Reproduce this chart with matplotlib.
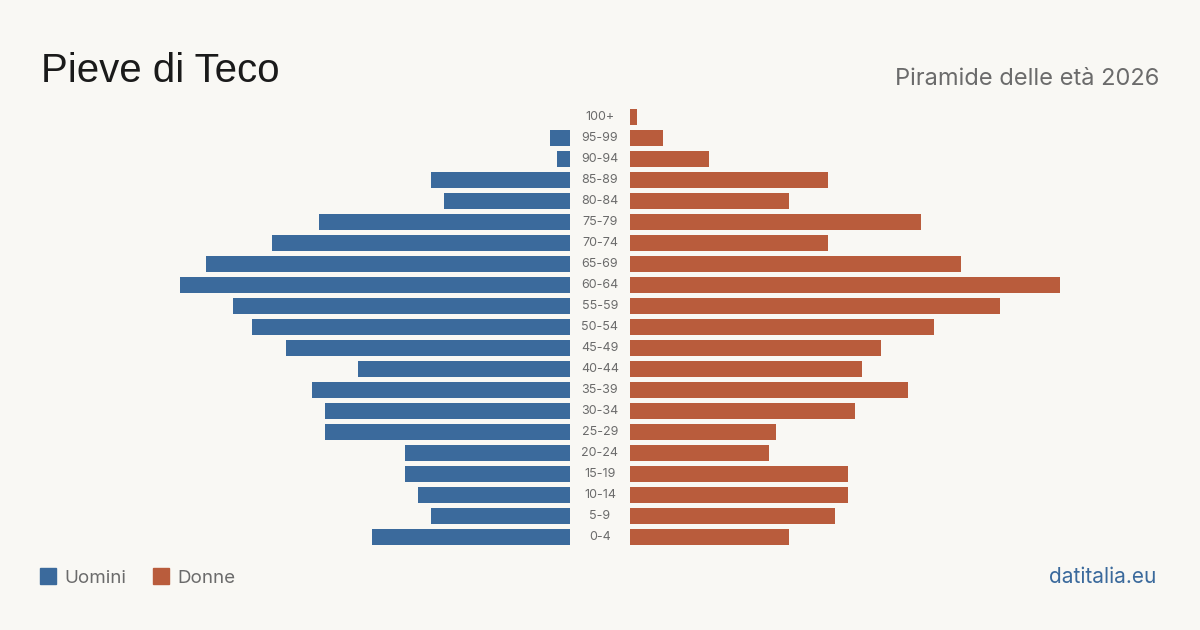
import matplotlib
matplotlib.use('Agg')
from matplotlib import pyplot as plt
from matplotlib import transforms
from matplotlib.patches import Rectangle

# Dati della piramide (dal basso verso l'alto)
classi = ['0-4', '5-9', '10-14', '15-19', '20-24', '25-29', '30-34', '35-39', '40-44',
          '45-49', '50-54', '55-59', '60-64', '65-69', '70-74', '75-79', '80-84',
          '85-89', '90-94', '95-99', '100+']
uomini = [30, 21, 23, 25, 25, 37, 37, 39, 32, 43, 48, 51, 59, 55, 45, 38, 19, 21, 2, 3, 0]
donne = [24, 31, 33, 33, 21, 22, 34, 42, 35, 38, 46, 56, 65, 50, 30, 44, 24, 30, 12, 5, 1]

BLU = '#3b6a9c'
ARANCIO = '#b95c3c'
SFONDO = '#f9f8f4'
GRIGIO = '#6b6b6b'

W, H = 1200, 630
fig = plt.figure(figsize=(12, 6.3), dpi=100, facecolor=SFONDO)

xmax = 440 / 6.615
y0 = (H - 547.5) / H
hh = 441 / H
axl = fig.add_axes([130 / W, y0, 440 / W, hh])
axr = fig.add_axes([630 / W, y0, 440 / W, hh])

pos = list(range(len(classi)))
axl.barh(pos, uomini, height=0.8, color=BLU)
axr.barh(pos, donne, height=0.8, color=ARANCIO)
axl.set_xlim(xmax, 0)
axr.set_xlim(0, xmax)
for ax in (axl, axr):
    ax.set_ylim(-0.5, len(classi) - 0.5)
    ax.axis('off')

# Etichette delle classi al centro
tr = transforms.blended_transform_factory(fig.transFigure, axl.transData)
for p, c in zip(pos, classi):
    fig.text(600 / W, p, c, transform=tr, ha='center', va='center',
             fontsize=9, color=GRIGIO, family='Inter')

# Titolo e sottotitolo
fig.text(41 / W, 1 - 82 / H, 'Pieve di Teco', fontsize=29, color='#1a1a1a',
         family='Liberation Sans', ha='left', va='baseline')
fig.text(1159 / W, 1 - 85 / H, 'Piramide delle età 2026', fontsize=17, color=GRIGIO,
         family='Inter', ha='right', va='baseline')

# Legenda
fig.patches.append(Rectangle((40 / W, 1 - 584 / H), 16 / W, 16 / H,
                             transform=fig.transFigure, color=BLU))
fig.text(64 / W, 1 - 583 / H, 'Uomini', fontsize=13.5, color=GRIGIO, family='Inter',
         va='baseline')
fig.patches.append(Rectangle((153 / W, 1 - 584 / H), 16 / W, 16 / H,
                             transform=fig.transFigure, color=ARANCIO))
fig.text(177 / W, 1 - 583 / H, 'Donne', fontsize=13.5, color=GRIGIO, family='Inter',
         va='baseline')

fig.text(1156 / W, 1 - 583 / H, 'datitalia.eu', fontsize=15, color=BLU, family='Inter',
         ha='right', va='baseline')

fig.savefig('out.png', dpi=100, facecolor=SFONDO)
